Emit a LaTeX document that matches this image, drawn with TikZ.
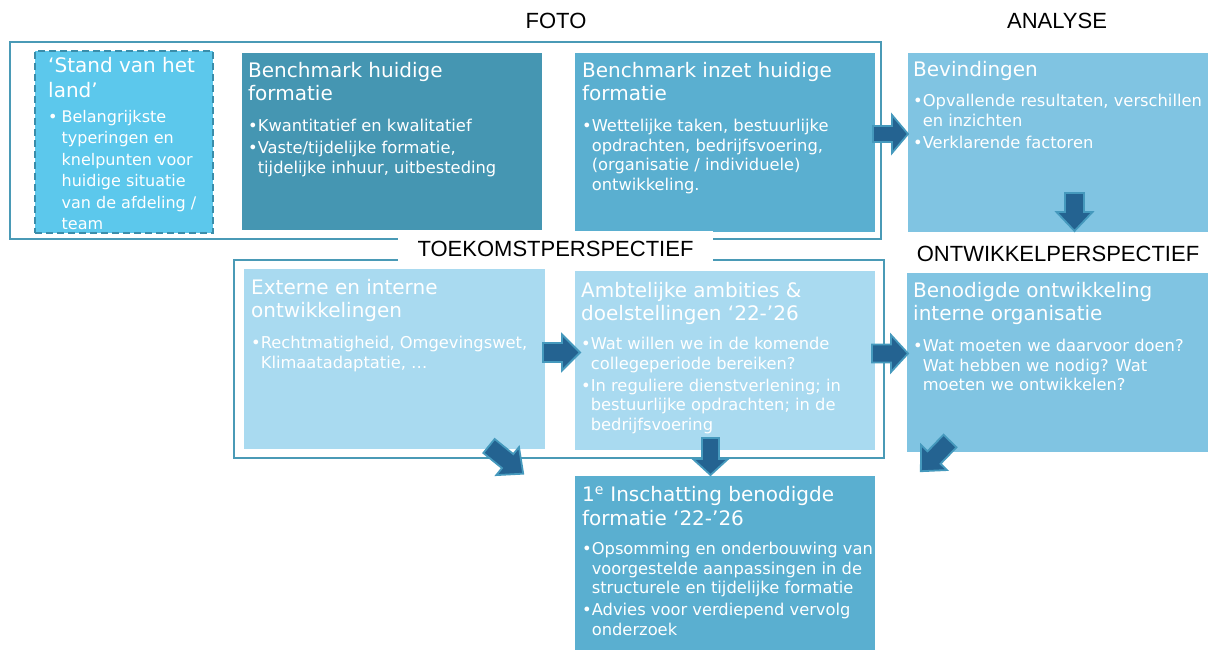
\documentclass[tikz,border=0pt]{standalone}
\usepackage{fontspec}
\newfontfamily\boxfont{DejaVu Sans}
\newfontfamily\labfont{Liberation Sans}
\usetikzlibrary{calc}
\definecolor{frameblue}{HTML}{4A9AB6}
\definecolor{standfill}{HTML}{5CC8EC}
\definecolor{standedge}{HTML}{3A8DAA}
\definecolor{darkfill}{HTML}{4596B2}
\definecolor{midfill}{HTML}{5AAFD0}
\definecolor{lightfill}{HTML}{80C4E2}
\definecolor{palefill}{HTML}{A9DAF0}
\definecolor{arrowfill}{HTML}{246391}
\definecolor{arrowedge}{HTML}{4599BD}
\tikzset{
  panel/.style={draw=none, anchor=north west, inner sep=0pt, outer sep=0pt},
  ttl/.style={anchor=north west, inner sep=0pt, align=left, text=white, font=\boxfont\fontsize{20}{23.5}\selectfont},
  bdy/.style={anchor=north west, inner sep=0pt, align=left, text=white, font=\boxfont\fontsize{16.3}{19.5}\selectfont},
  lab/.style={font=\labfont\fontsize{22}{26}\selectfont, text=black, inner sep=0pt},
  blockarrow/.style={fill=arrowfill, draw=arrowedge, line width=1.8pt, line join=miter},
  frameline/.style={draw=frameblue, line width=2.8pt},
}
\newcommand\blockarr[6]{%
  \begin{scope}[shift={#1}, rotate=#2]
    \draw[blockarrow] (0,-#4) -- ({#3-#6},-#4) -- ({#3-#6},-#5) -- (#3,0) -- ({#3-#6},#5) -- ({#3-#6},#4) -- (0,#4) -- cycle;
  \end{scope}}
\begin{document}
\begin{tikzpicture}[x=1pt,y=-1pt]
\useasboundingbox[fill=white] (0,0) rectangle (1208,650);

% frames
\draw[frameline] (10,42) rectangle (881,239);
\draw[frameline] (234,260) rectangle (884,458);

% panels
\node[panel, fill=standfill, draw=standedge, line width=2.6pt, dash pattern=on 7pt off 4pt, minimum width=178pt, minimum height=182pt] (stand) at (35,51) {};
\node[panel, fill=darkfill, minimum width=300pt, minimum height=177pt] (bhf) at (242,53) {};
\node[panel, fill=midfill, minimum width=300pt, minimum height=179pt] (bif) at (575,53) {};
\node[panel, fill=lightfill, minimum width=300pt, minimum height=179pt] (bev) at (908,53) {};
\node[panel, fill=palefill, minimum width=301pt, minimum height=180pt] (ext) at (244,269) {};
\node[panel, fill=palefill, minimum width=300pt, minimum height=179pt] (amb) at (575,271) {};
\node[panel, fill=lightfill, minimum width=301pt, minimum height=179pt] (ben) at (907,273) {};
\node[panel, fill=midfill, minimum width=300pt, minimum height=175pt] (ins) at (575,476) {};

% texts
\node[ttl, font=\boxfont\fontsize{20}{25}\selectfont] (stand-t) at (48,57) {‘Stand van het\\land’};
\node[bdy, font=\boxfont\fontsize{16}{21.5}\selectfont] (stand-b) at (48,110) {•\hspace{4pt}Belangrijkste\\\hphantom{•}\hspace{4pt}typeringen en\\\hphantom{•}\hspace{4pt}knelpunten voor\\\hphantom{•}\hspace{4pt}huidige situatie\\\hphantom{•}\hspace{4pt}van de afdeling /\\\hphantom{•}\hspace{4pt}team};

\node[ttl] (bhf-t) at (248,62) {Benchmark huidige\\formatie};
\node[bdy] (bhf-b) at (248,119) {•Kwantitatief en kwalitatief\\[2.5pt]•Vaste/tijdelijke formatie,\\\hphantom{•}tijdelijke inhuur, uitbesteding};

\node[ttl] (bif-t) at (582,62) {Benchmark inzet huidige\\formatie};
\node[bdy] (bif-b) at (582,119) {•Wettelijke taken, bestuurlijke\\\hphantom{•}opdrachten, bedrijfsvoering,\\\hphantom{•}(organisatie / individuele)\\\hphantom{•}ontwikkeling.};

\node[ttl] (bev-t) at (913,61) {Bevindingen};
\node[bdy] (bev-b) at (913,94) {•Opvallende resultaten, verschillen\\\hphantom{•}en inzichten\\[2.5pt]•Verklarende factoren};

\node[ttl] (ext-t) at (251,279) {Externe en interne\\ontwikkelingen};
\node[bdy] (ext-b) at (251,336) {•Rechtmatigheid, Omgevingswet,\\\hphantom{•}Klimaatadaptatie, …};

\node[ttl] (amb-t) at (581,282) {Ambtelijke ambities \&\\doelstellingen ‘22-’26};
\node[bdy] (amb-b) at (581,337) {•Wat willen we in de komende\\\hphantom{•}collegeperiode bereiken?\\[2.5pt]•In reguliere dienstverlening; in\\\hphantom{•}bestuurlijke opdrachten; in de\\\hphantom{•}bedrijfsvoering};

\node[ttl] (ben-t) at (913,282) {Benodigde ontwikkeling\\interne organisatie};
\node[bdy] (ben-b) at (913,339) {•Wat moeten we daarvoor doen?\\\hphantom{•}Wat hebben we nodig? Wat\\\hphantom{•}moeten we ontwikkelen?};

\node[ttl] (ins-t) at (582,486) {1\textsuperscript{e} Inschatting benodigde\\formatie ‘22-’26};
\node[bdy] (ins-b) at (582,542) {•Opsomming en onderbouwing van\\\hphantom{•}voorgestelde aanpassingen in de\\\hphantom{•}structurele en tijdelijke formatie\\[2.5pt]•Advies voor verdiepend vervolg\\\hphantom{•}onderzoek};

% section labels
\node[lab] (foto) at (556,21) {FOTO};
\node[lab] (analyse) at (1057,21) {ANALYSE};
\node[lab, fill=white, minimum width=315pt, minimum height=35pt] (toek) at (555.5,248.5) {TOEKOMSTPERSPECTIEF};
\node[lab] (ontw) at (1058,254) {ONTWIKKELPERSPECTIEF};

% block arrows
\blockarr{(873,134)}{0}{35}{8}{19}{16}
\blockarr{(1074.5,193)}{-90}{38}{9.5}{18}{19}
\blockarr{(543,352.5)}{0}{37}{9.5}{18}{18}
\blockarr{(872,353.5)}{0}{36}{9}{18.5}{17}
\blockarr{(710.5,438)}{-90}{37}{8.5}{17.5}{16}
\blockarr{(489,446)}{-39}{44}{9}{18}{20}
\blockarr{(950,441)}{-134}{42}{9}{18}{19}
\end{tikzpicture}
\end{document}
